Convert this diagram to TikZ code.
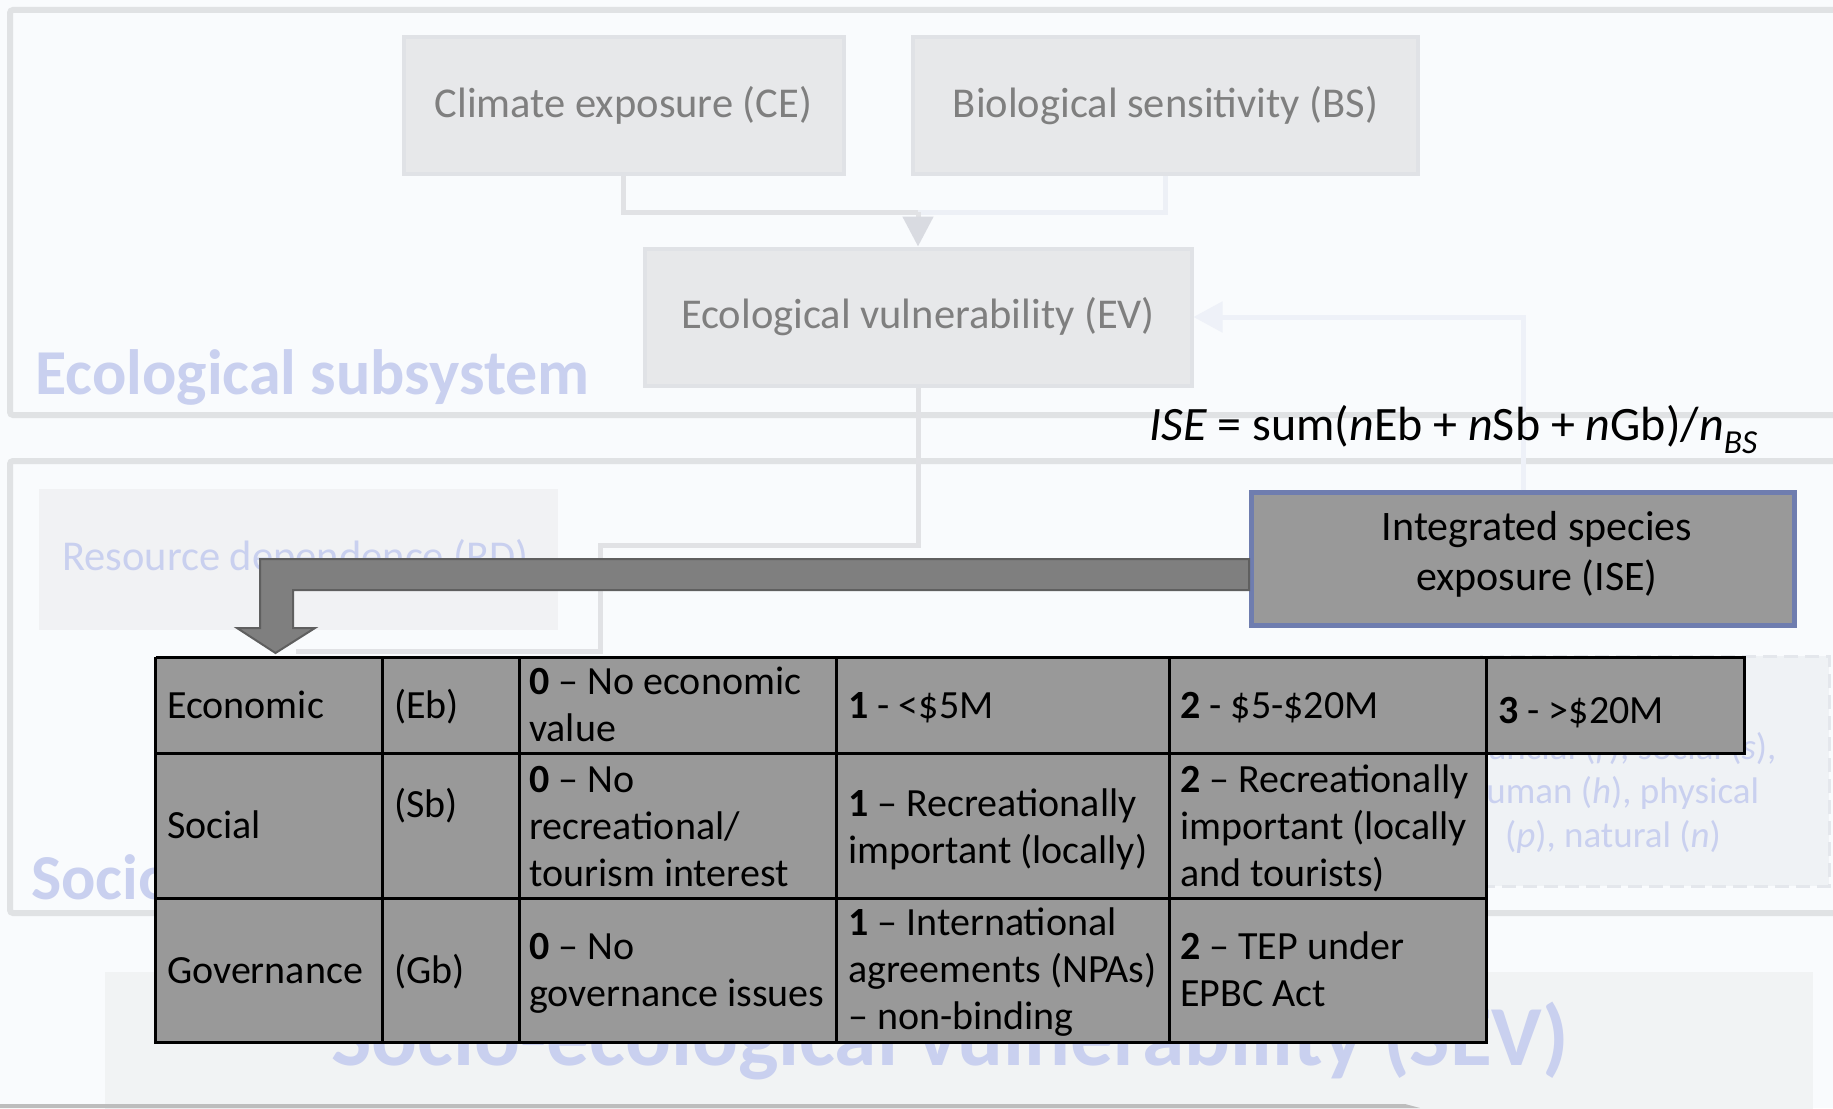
\documentclass[tikz,border=0pt]{standalone}
\usepackage{fontspec}
\setmainfont{Carlito}
\usetikzlibrary{arrows.meta}

\definecolor{bgcol}{HTML}{F9FBFD}
\definecolor{framecol}{HTML}{E0E2E4}
\definecolor{boxfill}{HTML}{E7E8EA}
\definecolor{boxline}{HTML}{E0E2E6}
\definecolor{boxtext}{HTML}{7F7F7F}
\definecolor{titlecol}{HTML}{C9D0EF}
\definecolor{rdfill}{HTML}{F1F2F4}
\definecolor{dashfill}{HTML}{EFF2F5}
\definecolor{dashline}{HTML}{E4E7EC}
\definecolor{sevfill}{HTML}{F1F3F4}
\definecolor{connA}{HTML}{E1E2E5}
\definecolor{connB}{HTML}{EDF0F6}
\definecolor{connC}{HTML}{EEF1F8}
\definecolor{tipcol}{HTML}{D9DBE1}
\definecolor{isefill}{HTML}{999999}
\definecolor{iseline}{HTML}{6F7DAF}
\definecolor{bigarrow}{HTML}{7F7F7F}
\definecolor{bigarrowline}{HTML}{5F5F5F}
\definecolor{barcol}{HTML}{BDBDBD}

\tikzset{
  frame/.style={draw=framecol, line width=6pt, rounded corners=3pt},
  ebox/.style={draw=boxline, fill=boxfill, line width=4pt, text=boxtext,
    font=\fontsize{42.5}{50}\selectfont, inner sep=0pt, minimum height=137pt},
  title/.style={text=titlecol, font=\fontsize{64}{70}\selectfont\bfseries, inner sep=0pt},
  lightline/.style={line width=5pt},
  % multi-line cells are anchored at the baseline of their last line
  cell/.style={anchor=base west, align=left, inner sep=0pt,
    font=\fontsize{40}{47}\selectfont},
  faint/.style={text=titlecol, inner sep=0pt},
}

\begin{document}
\begin{tikzpicture}[x=1pt,y=-1pt]
\useasboundingbox (0,0) rectangle (1833,1108);
\clip (0,0) rectangle (1833,1108);
\fill[bgcol] (0,0) rectangle (1833,1108);

% subsystem frames
\draw[frame] (10,10) rectangle (1870,415);
\draw[frame] (10,461) rectangle (1870,913);
\node[title, anchor=base west] (ecotitle) at (35,394) {Ecological subsystem};
\node[title, anchor=base west] (sociotitle) at (31,899) {Socio-economic subsystem};

% ecological boxes
\node[ebox, minimum width=440pt] (ce) at (623.5,105.5) {Climate exposure (CE)};
\node[ebox, minimum width=505pt] (bs) at (1165.5,105.5) {Biological sensitivity (BS)};
\node[ebox, minimum width=547pt] (ev) at (918,317) {Ecological vulnerability (EV)};

% socio boxes
\fill[rdfill] (39,489) rectangle (558,630);
\node[faint, anchor=base west, font=\fontsize{42.5}{50}\selectfont] (rd) at (62,570) {Resource dependence (RD)};

\fill[dashfill] (1480,656) rectangle (1829,886);
\draw[dashline, line width=3pt, dash pattern=on 14pt off 7pt] (1480,656) rectangle (1829,886);
\node[faint, anchor=base, align=center, font=\fontsize{37}{44}\selectfont] (capitals) at (1613,847)
  {financial (\textit{f}), social (\textit{s}),\\ human (\textit{h}), physical\\ (\textit{p}), natural (\textit{n})};

\fill[sevfill] (105,972) rectangle (1813,1130);
\node[title, anchor=base, font=\fontsize{85.5}{90}\selectfont\bfseries] (sev) at (950,1065) {Socio-ecological vulnerability (SEV)};
\fill[barcol] (0,1104) -- (1405,1104) -- (1420,1108) -- (0,1108) -- cycle;

% connectors among the ecological boxes
\coordinate (join) at (918,212);
\draw[connA, lightline] (ce.south) |- (join);
\draw[connB, lightline] (bs.south) |- (join);
\draw[connA, lightline, -{Triangle[length=30pt,width=30pt,color=tipcol]}] (join) -- (ev.north);
\coordinate (down1) at (918,545);
\coordinate (down2) at (600,545);
\coordinate (down3) at (600,651);
\coordinate (down4) at (296,651);
\draw[connA, lightline] (ev.south) -- (down1) -- (down2) -- (down3) -- (down4);

% ISE box and its feedback into EV
\node[draw=iseline, fill=isefill, line width=5pt, minimum width=543pt, minimum height=133pt, inner sep=0pt] (ise) at (1523,559) {};
\node[anchor=base, align=center, inner sep=0pt, font=\fontsize{42}{50.5}\selectfont] (isetext) at (1537,590.5)
  {Integrated species\\ exposure (ISE)};
\coordinate (fb) at (1523,317);
\draw[connC, lightline, -{Triangle[length=29pt,width=30pt]}] (ise.north -| fb) |- (ev.east);

\node[anchor=base west, inner sep=0pt, font=\fontsize{48}{54}\selectfont] (formula) at (1149,440)
  {\textit{ISE} = sum(\textit{n}Eb + \textit{n}Sb + \textit{n}Gb)/\textit{n}\textsubscript{\textit{BS}}};

% block arrow from the ISE box down to the table
\filldraw[fill=bigarrow, draw=bigarrowline, line width=2pt]
  (ise.west |- 0,559) -- (260,559) -- (260,628) -- (237,628) -- (275.5,653)
  -- (315,628) -- (293,628) -- (293,590) -- (ise.west |- 0,590) -- cycle;

% scoring table
\fill[isefill] (155.5,657) rectangle (1744,753);
\fill[isefill] (155.5,753) rectangle (1486,1042);
\begin{scope}[line width=3pt, black]
  \draw (155.5,657) -- (1744,657) -- (1744,753) -- (1486,753);
  \draw (155.5,657) -- (155.5,1042) -- (1486,1042) -- (1486,657);
  \draw (155.5,753) -- (1486,753);
  \draw (155.5,898) -- (1486,898);
  \draw (382,657) -- (382,1042);
  \draw (519,657) -- (519,1042);
  \draw (836,657) -- (836,1042);
  \draw (1169,657) -- (1169,1042);
\end{scope}

\node[cell] (c11) at (167,718.6) {Economic};
\node[cell] (c12) at (394,718.6) {(Eb)};
\node[cell] (c13) at (529,741.6) {\textbf{0} – No economic\\value};
\node[cell] (c14) at (848,718.6) {\textbf{1} - <\$5M};
\node[cell] (c15) at (1180,718.6) {\textbf{2} - \$5-\$20M};
\node[cell] (c16) at (1498,723) {\textbf{3} - >\$20M};

\node[cell] (c21) at (167,838) {Social};
\node[cell] (c22) at (394,817) {(Sb)};
\node[cell] (c23) at (529,886) {\textbf{0} – No\\recreational/\\tourism interest};
\node[cell] (c24) at (848,863) {\textbf{1} – Recreationally\\important (locally)};
\node[cell] (c25) at (1180,886) {\textbf{2} – Recreationally\\important (locally\\and tourists)};

\node[cell] (c31) at (167,983) {Governance};
\node[cell] (c32) at (394,983) {(Gb)};
\node[cell] (c33) at (529,1006) {\textbf{0} – No\\governance issues};
\node[cell] (c34) at (848,1029) {\textbf{1} – International\\agreements (NPAs)\\– non-binding};
\node[cell] (c35) at (1180,1006) {\textbf{2} – TEP under\\EPBC Act};
\end{tikzpicture}
\end{document}
